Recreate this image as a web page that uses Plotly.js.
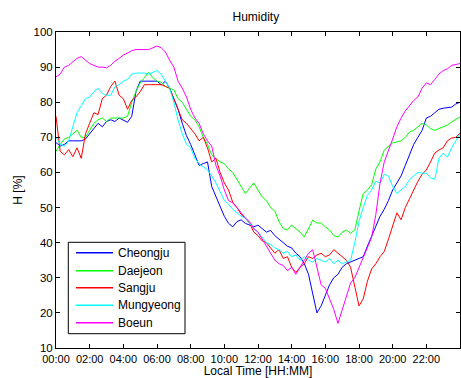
<!DOCTYPE html>
<html>
<head>
<meta charset="utf-8">
<script src="https://cdn.plot.ly/plotly-3.0.1.min.js"></script>
<style>html,body{margin:0;padding:0;background:#fff;}#chart{width:461px;height:378px;}</style>
</head>
<body>
<div id="chart"></div>
<script>
// Local time in hours (15-minute samples)
const hours = [
  0,0.25,0.5,0.75, 1,1.25,1.5,1.75, 2,2.25,2.5,2.75, 3,3.25,3.5,3.75,
  4,4.25,4.5,4.75, 5,5.25,5.5,5.75, 6,6.25,6.5,6.75, 7,7.25,7.5,7.75,
  8,8.25,8.5,8.75, 9,9.25,9.5,9.75, 10,10.25,10.5,10.75, 11,11.25,11.5,11.75,
  12,12.25,12.5,12.75, 13,13.25,13.5,13.75, 14,14.25,14.5,14.75, 15,15.25,15.5,15.75,
  16,16.25,16.5,16.75, 17,17.25,17.5,17.75, 18,18.25,18.5,18.75, 19,19.25,19.5,19.75,
  20,20.25,20.5,20.75, 21,21.25,21.5,21.75, 22,22.25,22.5,22.75, 23,23.25,23.5,23.75, 24
];

const cheongju = [
  68.5,67.5,68,69, 69,69,69,69.5, 71,72.5,74,73, 74.5,75,74.5,75.5,
  75,74.3,76,83, 86,86,86,86, 86,85,86,84, 81,78,74,70.5,
  68,65,62,62.5, 63,56,53,50, 47.5,45.5,44.5,46, 46.5,45.5,45,44.5,
  45,44,43,43.5, 42,41,40,39, 38.5,37,36,34, 31,25,20,22,
  25,28,30,31, 33,34,34.5,35, 35.5,36,39,42, 45,47.5,49.5,52,
  55,57,59,62, 65,68,70,72, 75.5,76,77,78, 78.3,78.5,78.6,79.5, 80
];

const daejeon = [
  66,68,69.5,70, 71,72,70,70, 72,74,75,75.5, 74.5,75.5,75.5,75.5,
  75.5,76,80,83, 85.5,87,88.5,87, 86,85.7,84.5,84, 83.5,81,80,78,
  76,75,73,70, 68,65,64,63, 62.5,61,60,58, 56,54,55.5,57,
  55,53,52,50, 49,46,44,43.6, 45,44,43,41.6, 44,46.4,45.6,45.6,
  44.5,43.6,42,41.6, 43,43.6,42.7,43.6, 49,54,55,56.5, 61,63,66.4,67.5,
  68.4,68.7,69,70, 71.5,72,73,74, 73.5,72.5,72,72.5, 73,73.5,74.4,75, 75.8
];

const sangju = [
  76,66,65,66.5, 64.5,67,64,71, 74,77,76.5,81, 82,84.5,86,82,
  81,78,80.5,81.5, 83,85,85,85, 85,85,84.5,84, 81,78,75,74,
  72.5,71,69,70, 67,63,64,60, 57,55,51.5,50, 48,47,45.5,43,
  42,40.5,40,38.5, 37,38,35.5,36, 33,31.5,33,34, 36,35.5,36.5,37,
  36,36.5,38,37, 36,35,33,27, 22,24,29,32.5, 34,36,37.5,41,
  44.5,48.5,46.5,50, 52.5,55,57.5,59.5, 60.7,63,65.5,66.4, 67,69,69.8,70, 71.2
];

const mungyeong = [
  70,68,67.5,69, 73,77,79,81, 81.5,83,84,82.5, 82,82,84.4,85,
  86,86.5,88,88.3, 88.3,88.3,88,88.5, 89,88,86,84, 80,75,71,68,
  67,64,62.5,61.5, 60.7,59,57,54.5, 52,51,49.5,48.5, 47.5,47,45.5,44,
  43,41.5,40,39.5, 38.5,38,37,37.5, 36,36.5,35,36, 35,34.5,35.5,35,
  34.5,35.5,34,35, 34,34.5,35,40, 46,50,53.5,55, 57.5,57,59.5,59,
  56,54,55,56, 58,59,60,59.8, 59.8,58.5,58,64, 65.5,64.4,67,69, 71
];

const boeun = [
  87.2,88,90,90.5, 91.5,92.5,93,92, 91,90.5,90,90, 89.8,90.5,91.7,92.5,
  93.4,94,94.7,95, 95,95,95,95.5, 96,95.5,94.3,92, 90,86,84,81.5,
  78,75.5,74,71, 69,67.5,62,59, 55,52,51.3,50, 48.5,47,46,44,
  43,41,39,37, 35,34,33.5,32, 33,31,33,35, 37,38,33,28,
  27,24,21,17, 21,25,28.5,30, 33,36,38.5,41.5, 48,57,63,66,
  69.5,73,75.5,77.5, 79,80.5,81.5,84, 85.5,85,86.5,88, 89,89.5,90.5,90.8, 91
];

const stationNames = ["Cheongju", "Daejeon", "Sangju", "Mungyeong", "Boeun"];
const stationColors = ["#0000ff", "#00ff00", "#ff0000", "#00ffff", "#ff00ff"];
const stationValues = [cheongju, daejeon, sangju, mungyeong, boeun];

const tickHours = [0, 2, 4, 6, 8, 10, 12, 14, 16, 18, 20, 22];
const tickLabels = ["00:00", "02:00", "04:00", "06:00", "08:00", "10:00", "12:00", "14:00", "16:00", "18:00", "20:00", "22:00"];
const yTicks = [10, 20, 30, 40, 50, 60, 70, 80, 90, 100];

const traces = stationNames.map((name, i) => ({
  x: hours,
  y: stationValues[i],
  type: "scatter",
  mode: "lines",
  name: name,
  showlegend: false,
  line: { color: stationColors[i], width: 1 }
}));

const fam = "Liberation Sans, Arial, sans-serif";
const tickFont = { family: fam, size: 11.5, color: "#000" };
const xTickFont = { family: fam, size: 11, color: "#000" };
const textFont = { family: fam, size: 12, color: "#000" };

// Legend box drawn in paper coordinates (MATLAB-style legend)
const M = { l: 56, r: 1, t: 32, b: 30 };
const W = 461, H = 378;
const pw = W - M.l - M.r, ph = H - M.t - M.b;
const px = v => (v - M.l) / pw;
const py = v => (H - M.b - v) / ph;
const legBox = { x0: 68.3, x1: 185, y0: 242.3, y1: 333.7 };
const legRowY = [252.7, 270.7, 287.7, 305.3, 322.7];

const shapes = [{
  type: "rect", xref: "paper", yref: "paper",
  x0: px(legBox.x0), x1: px(legBox.x1), y0: py(legBox.y1), y1: py(legBox.y0),
  line: { color: "#000", width: 1 }, fillcolor: "#fff", layer: "above"
}];
const annotations = [];
stationNames.forEach((name, i) => {
  shapes.push({
    type: "line", xref: "paper", yref: "paper",
    x0: px(76), x1: px(113), y0: py(legRowY[i]), y1: py(legRowY[i]),
    line: { color: stationColors[i], width: 1.5 }, layer: "above"
  });
  annotations.push({
    xref: "paper", yref: "paper", x: px(116), y: py(legRowY[i]),
    xanchor: "left", yanchor: "middle", showarrow: false,
    text: name, font: textFont
  });
});

const layout = {
  width: W,
  height: H,
  margin: M,
  paper_bgcolor: "#fff",
  plot_bgcolor: "#fff",
  font: textFont,
  showlegend: false,
  title: { text: "Humidity", font: textFont, x: 0.555, xanchor: "center", y: 0.955, yanchor: "middle" },
  xaxis: {
    range: [0, 24],
    tickvals: tickHours,
    ticktext: tickLabels,
    ticks: "inside",
    ticklen: 4,
    tickcolor: "#000",
    showline: true,
    linecolor: "#000",
    linewidth: 1,
    mirror: "ticks",
    showgrid: false,
    zeroline: false,
    tickfont: xTickFont,
    ticklabelstandoff: 1,
    title: { text: "Local Time [HH:MM]", font: textFont, standoff: 5 }
  },
  yaxis: {
    range: [10, 100],
    tickvals: yTicks,
    ticks: "inside",
    ticklen: 4,
    tickcolor: "#000",
    showline: true,
    linecolor: "#000",
    linewidth: 1,
    mirror: "ticks",
    showgrid: false,
    zeroline: false,
    tickfont: tickFont,
    title: { text: "H [%]", font: textFont, standoff: 8 }
  },
  shapes: shapes,
  annotations: annotations
};

Plotly.newPlot("chart", traces, layout, { staticPlot: true, displayModeBar: false });
</script>
</body>
</html>
